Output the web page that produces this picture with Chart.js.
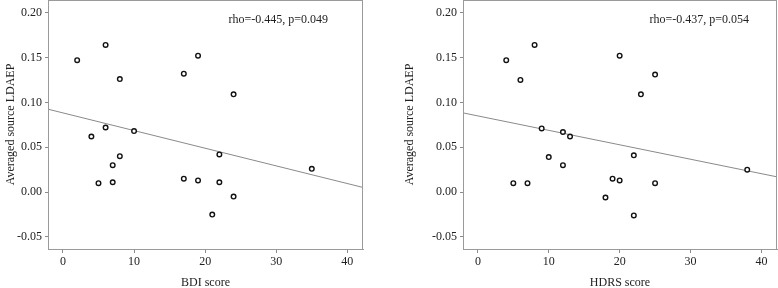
<!DOCTYPE html>
<html>
<head>
  <title>LDAEP vs depression scores</title>
  <style>
    body { margin: 0; background: #fff; }
    #wrap { position: relative; width: 778px; height: 288px; }
    canvas { position: absolute; top: 0; }
  </style>
</head>
<body>
  <div id="wrap">
    <canvas id="bdi" width="389" height="288" style="left:0"></canvas>
    <canvas id="hdrs" width="389" height="288" style="left:389px"></canvas>
  </div>

  <script src="https://cdn.jsdelivr.net/npm/chart.js"></script>
  <script>
    // values
    const bdiScores = [2, 6, 8, 17, 19, 24, 4, 6, 10, 7, 8, 5, 7, 17, 19, 22, 22, 24, 21, 35];
    const bdiLdaep = [0.147, 0.164, 0.126, 0.132, 0.152, 0.109, 0.062, 0.072, 0.068, 0.030, 0.040, 0.010, 0.011, 0.015, 0.013, 0.042, 0.011, -0.005, -0.025, 0.026];
    const bdiFit = [0.0924, 0.0052]; // fit line at left / right edge

    const hdrsScores = [4, 8, 6, 20, 25, 23, 9, 12, 13, 5, 7, 10, 12, 19, 20, 22, 25, 18, 22, 38];
    const hdrsLdaep = [0.147, 0.164, 0.125, 0.152, 0.131, 0.109, 0.071, 0.067, 0.062, 0.010, 0.010, 0.039, 0.030, 0.015, 0.013, 0.041, 0.010, -0.006, -0.026, 0.025];
    const hdrsFit = [0.0883, 0.0170];

    const xTicks = [0, 10, 20, 30, 40];
    const yTicks = [-0.05, 0, 0.05, 0.10, 0.15, 0.20];
    const xRange = [-2.1, 42.2];
    const yRange = [-0.0634, 0.2141];

    const serif = '"Liberation Serif", "DejaVu Serif", serif';

    // box around the plot + the rho/p note
    const framePlugin = {
      id: 'frame',
      afterDraw(chart, args, opts) {
        const a = chart.chartArea;
        const ctx = chart.ctx;
        ctx.save();
        ctx.strokeStyle = '#9a9a9a';
        ctx.lineWidth = 1;
        ctx.strokeRect(a.left + 0.5, a.top + 0.5, a.right - a.left - 1, a.bottom - a.top);
        ctx.fillStyle = '#222';
        ctx.font = '12px ' + serif;
        ctx.textAlign = 'right';
        ctx.textBaseline = 'middle';
        ctx.fillText(opts.note, a.right - opts.noteRight, a.top + 20);
        ctx.restore();
      }
    };

    function noPad(s) {
      s.paddingTop = 0; s.paddingBottom = 0; s.paddingLeft = 0; s.paddingRight = 0;
    }

    function makeChart(id, scores, values, fit, xTitle, note, opt) {
      const pts = scores.map((s, i) => ({ x: s, y: values[i] }));
      return new Chart(document.getElementById(id), {
        type: 'scatter',
        data: {
          datasets: [
            {
              type: 'line',
              data: [{ x: xRange[0], y: fit[0] }, { x: xRange[1], y: fit[1] }],
              borderColor: '#8a8a8a',
              borderWidth: 1,
              pointRadius: 0,
              fill: false,
              order: 2
            },
            {
              data: pts,
              pointRadius: 2.3,
              pointBorderWidth: 1.4,
              pointBackgroundColor: '#fff',
              pointBorderColor: '#111',
              order: 1
            }
          ]
        },
        options: {
          responsive: false,
          animation: false,
          devicePixelRatio: 1,
          layout: { autoPadding: false, padding: { left: opt.padLeft, top: 0, right: opt.padRight, bottom: 0 } },
          plugins: {
            legend: { display: false },
            tooltip: { enabled: false },
            frame: { note: note, noteRight: opt.noteRight }
          },
          scales: {
            x: {
              type: 'linear',
              min: xRange[0],
              max: xRange[1],
              afterBuildTicks: s => { s.ticks = xTicks.map(v => ({ value: v })); },
              afterFit: s => { s.height = 39; noPad(s); },
              grid: { drawOnChartArea: false, tickLength: 4, color: '#8a8a8a' },
              border: { color: '#9a9a9a' },
              ticks: { color: '#222', font: { family: serif, size: 12 }, padding: 2, maxRotation: 0 },
              title: { display: true, text: xTitle, color: '#222', font: { family: serif, size: 12 }, padding: { top: 0, bottom: -2 } }
            },
            y: {
              min: yRange[0],
              max: yRange[1],
              afterBuildTicks: s => { s.ticks = yTicks.map(v => ({ value: v })); },
              afterFit: s => { s.width = opt.yWidth; noPad(s); },
              grid: { drawOnChartArea: false, tickLength: 3, color: '#8a8a8a' },
              border: { color: '#9a9a9a' },
              ticks: { color: '#222', font: { family: serif, size: 12 }, padding: 3, callback: v => v.toFixed(2) },
              title: { display: true, text: 'Averaged source LDAEP', color: '#222', font: { family: serif, size: 12 }, padding: { top: 4, bottom: 0 } }
            }
          }
        },
        plugins: [framePlugin]
      });
    }

    makeChart('bdi', bdiScores, bdiLdaep, bdiFit, 'BDI score', 'rho=-0.445, p=0.049',
      { padLeft: 0, padRight: 26, yWidth: 48, noteRight: 35 });
    makeChart('hdrs', hdrsScores, hdrsLdaep, hdrsFit, 'HDRS score', 'rho=-0.437, p=0.054',
      { padLeft: 10, padRight: 1, yWidth: 64, noteRight: 28 });
  </script>
</body>
</html>
